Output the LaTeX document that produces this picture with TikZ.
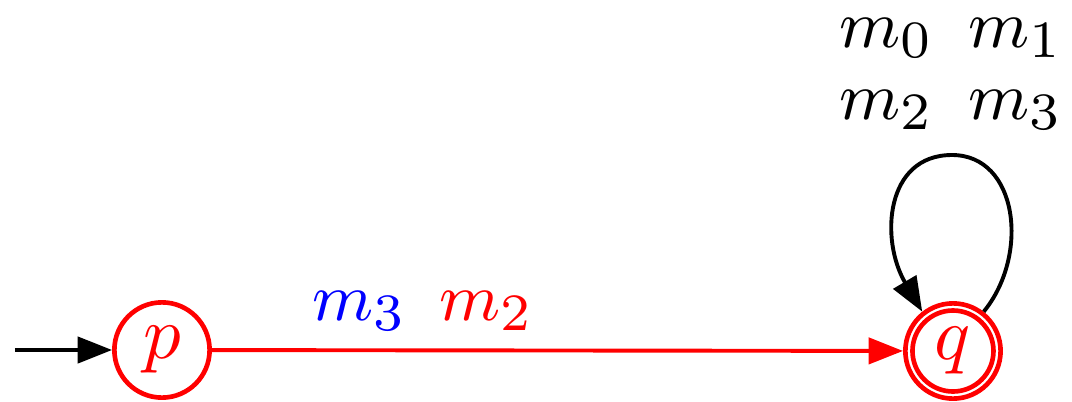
\documentclass[tikz,border=0pt]{standalone}
\usetikzlibrary{arrows.meta}
\begin{document}
\begin{tikzpicture}[x=0.13333pt,y=-0.13333pt,
  font=\fontsize{9.3}{11}\selectfont,
  st/.style={circle,draw=red,text=red,line width=0.62pt,minimum size=12.7pt,inner sep=0pt,font=\fontsize{10}{12}\selectfont},
  inner/.style={circle,draw=red,line width=0.62pt,minimum size=10.8pt,inner sep=0pt},
  ed/.style={line width=0.52pt,-{Triangle[length=4.6pt,width=3.5pt]}},
  lb/.style={inner sep=0pt}]
\useasboundingbox (0,0) rectangle (1072,402);
\node[st] (p) at (162,350) {$p$};
\node[st] (q) at (953,351) {$q$};
\node[inner] (qi) at (q) {};
\coordinate (s) at (15,350);
\draw[ed] (s) -- (p);
\draw[ed,red] (p) -- (q);
\draw[ed] (q.52) .. controls (1030,255) and (1018,155) .. (952,155) .. controls (885,155) and (880,240) .. (q.128);
\node[lb] (l0) at (887,38) {$m_0$};
\node[lb] (l1) at (1016,38) {$m_1$};
\node[lb] (l2) at (887,110) {$m_2$};
\node[lb] (l3) at (1016,110) {$m_3$};
\node[lb,text=blue] (e3) at (360,311) {$m_3$};
\node[lb,text=red] (e2) at (487,311) {$m_2$};
\end{tikzpicture}
\end{document}
